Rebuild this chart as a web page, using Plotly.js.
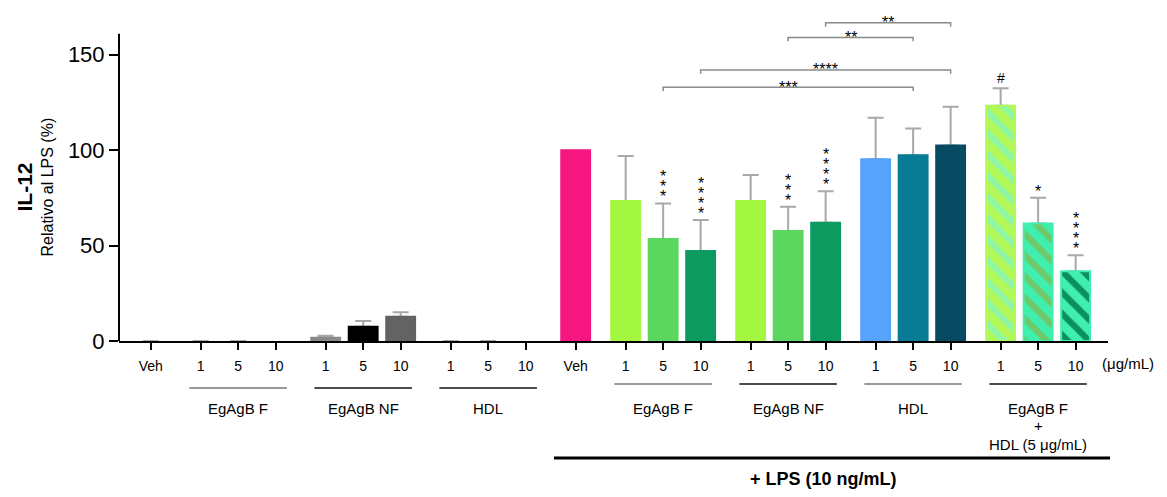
<!DOCTYPE html>
<html><head><meta charset="utf-8">
<script src="https://cdn.plot.ly/plotly-3.0.1.min.js"></script>
<style>html,body{margin:0;padding:0;background:#fff;} #chart{width:1167px;height:497px;}</style>
</head><body><div id="chart"></div>
<script>
// ---------------- data ----------------
const groupNames = ['', 'EgAgB F', 'EgAgB NF', 'HDL', '', 'EgAgB F', 'EgAgB NF', 'HDL', 'EgAgB F'];
const groupSizes = [1, 3, 3, 3, 1, 3, 3, 3, 3];
const tickLabels = ['Veh','1','5','10','1','5','10','1','5','10',
                    'Veh','1','5','10','1','5','10','1','5','10','1','5','10'];
const meanValues = [0, 0, 0, 0, 1.7, 7.5, 12.7, 0, 0, 0,
                    100, 73.3, 53.4, 47.1, 73.3, 57.6, 62.0, 95.2, 97.3, 102.4, 123.3, 61.6, 36.5];
const errorUpper = [0, 0, 0, null, 1.1, 3.0, 2.3, 0, 0, null,
                    null, 23.6, 18.7, 16.3, 13.7, 12.8, 16.4, 21.8, 14.0, 20.3, 9.1, 13.5, 8.4];
const barMarks = ['', '', '', '', '', '', '', '', '', '',
                  '', '', '***', '****', '', '***', '****', '', '', '', '#', '*', '****'];
const comparisons = [
  {a: 12, b: 18, label: '***'},
  {a: 13, b: 19, label: '****'},
  {a: 15, b: 18, label: '**'},
  {a: 16, b: 19, label: '**'}
];
const unitLabel = '(μg/mL)';
const comboLines = ['EgAgB F', '+', 'HDL (5 μg/mL)'];
const lpsLabel = '+ LPS (10 ng/mL)';
const yTitleMain = 'IL-12';
const yTitleSub = 'Relativo al LPS (%)';

// ---------------- styles ----------------
const barColors = ['#9a9a9a','#9a9a9a','#9a9a9a','#9a9a9a','#8a8a8a','#000000','#636363','#9a9a9a','#9a9a9a','#9a9a9a',
                   '#f5167f','#a3f741','#5bd65f','#0c9a60','#a3f741','#5bd65f','#0c9a60',
                   '#56a3fc','#087c96','#064b62','#b3f859','#40eeae','#40efb0'];
const hatchFg = {20: '#8ff7a4', 21: '#6fc86a', 22: '#0b8f5c'};   // striped bars: stripe colour
const underlineColors = ['#777','#111','#111','#777','#111','#777','#111'];
const bracketY = [133, 142, 159, 166.7];

const FONT = 'Liberation Sans, Arial, sans-serif';
const PL = 119, PR = 1108, PT = 7, PB = 341;
const yMax = 175;
const xMin = -0.845, xMax = 25.53;
const BARW = 0.77;

// positions: step 1 within group, 4/3 between groups
const xPos = [];
let p = 0;
groupSizes.forEach(n => { for (let k = 0; k < n; k++) { xPos.push(p); p += 1; } p += 1/3; });

const pxX = px => (px - PL) / (PR - PL);
const pxY = py => (PB - py) / (PB - PT);
const dataToPaperX = v => (v - xMin) / (xMax - xMin);

// error bars drawn first (underneath), so the lower cap is hidden by the bars
const traces = [{
  type: 'bar',
  x: xPos,
  y: meanValues.map((v, i) => errorUpper[i] === null ? null : v),
  width: BARW,
  marker: {color: 'rgba(0,0,0,0)', line: {width: 0}},
  error_y: {
    type: 'data', symmetric: false,
    array: errorUpper,
    arrayminus: errorUpper.map(v => v === null ? null : 0),
    color: '#a8a8a8', thickness: 2, width: 8
  },
  hoverinfo: 'none'
}];

// plain bars
const plainIdx = meanValues.map((v, i) => i).filter(i => !(i in hatchFg));
traces.push({
  type: 'bar',
  x: plainIdx.map(i => xPos[i]),
  y: plainIdx.map(i => meanValues[i]),
  width: BARW,
  marker: {
    color: plainIdx.map(i => barColors[i]),
    line: {color: plainIdx.map(i => barColors[i]), width: plainIdx.map(i => meanValues[i] > 0 ? 2 : 0)}
  },
  hoverinfo: 'none'
});

// striped bars (one trace each so the stripe colour can differ)
Object.keys(hatchFg).map(Number).forEach(i => {
  traces.push({
    type: 'bar',
    x: [xPos[i]],
    y: [meanValues[i]],
    width: BARW,
    marker: {
      color: barColors[i],
      line: {color: barColors[i], width: 2},
      pattern: {shape: '\\', fillmode: 'replace', bgcolor: barColors[i], fgcolor: hatchFg[i], size: 15, solidity: 0.42}
    },
    hoverinfo: 'none'
  });
});

const shapes = [];
const annotations = [];

// y axis line
shapes.push({type: 'line', xref: 'paper', yref: 'y', x0: 0, x1: 0, y0: 0, y1: 161,
             line: {color: '#000', width: 2}});

// group underlines and labels
let idx = 0, ul = 0;
groupSizes.forEach((n, g) => {
  const first = idx, last = idx + n - 1;
  idx += n;
  if (!groupNames[g]) return;
  const right = first >= 10;
  const lineY = right ? 384 : 388;
  shapes.push({type: 'line', xref: 'paper', yref: 'paper',
               x0: dataToPaperX(xPos[first] - 0.3), x1: dataToPaperX(xPos[last] + 0.3),
               y0: pxY(lineY), y1: pxY(lineY),
               line: {color: underlineColors[ul++], width: 1.6}});
  const cx = dataToPaperX((xPos[first] + xPos[last]) / 2);
  if (g === groupNames.length - 1) {
    const ys = [408, 425, 444];
    comboLines.forEach((t, k) => annotations.push({xref: 'paper', yref: 'paper', x: cx, y: pxY(ys[k]),
      text: t, showarrow: false, xanchor: 'center', yanchor: 'middle', font: {size: 15, color: '#000'}}));
  } else {
    annotations.push({xref: 'paper', yref: 'paper', x: cx, y: pxY(408), text: groupNames[g],
      showarrow: false, xanchor: 'center', yanchor: 'middle', font: {size: 15, color: '#000'}});
  }
});

// LPS line + label
shapes.push({type: 'line', xref: 'paper', yref: 'paper',
             x0: pxX(554), x1: pxX(1110), y0: pxY(458), y1: pxY(458), line: {color: '#000', width: 3}});
annotations.push({xref: 'paper', yref: 'paper', x: pxX(823), y: pxY(479), text: '<b>' + lpsLabel + '</b>',
  showarrow: false, xanchor: 'center', yanchor: 'middle', font: {size: 18, color: '#000'}});

// unit label
annotations.push({xref: 'paper', yref: 'paper', x: pxX(1100), y: pxY(363), text: unitLabel,
  showarrow: false, xanchor: 'left', yanchor: 'middle', font: {size: 15, color: '#000'}});

// y titles
annotations.push({xref: 'paper', yref: 'paper', x: pxX(23.5), y: pxY(187), text: '<b>' + yTitleMain + '</b>',
  textangle: -90, showarrow: false, xanchor: 'center', yanchor: 'middle', font: {size: 21, color: '#000'}});
annotations.push({xref: 'paper', yref: 'paper', x: pxX(47), y: pxY(187.5), text: yTitleSub,
  textangle: -90, showarrow: false, xanchor: 'center', yanchor: 'middle', font: {size: 16, color: '#000'}});

// marks above bars (stacked asterisks in one text, tight line spacing)
barMarks.forEach((m, i) => {
  if (!m) return;
  const top = meanValues[i] + (errorUpper[i] || 0);
  if (m.length > 1 && /^\*+$/.test(m)) {
    const txt = m.split('').map(s => '<span style="font-size:16px">' + s + '</span>').join('<br>');
    annotations.push({x: xPos[i], y: top, yshift: -4, text: txt, showarrow: false,
      xanchor: 'center', yanchor: 'bottom', font: {size: 7.7, color: '#000'}});
  } else {
    annotations.push({x: xPos[i], y: top, yshift: m === '#' ? 10 : 6, text: m, showarrow: false,
      xanchor: 'center', yanchor: 'middle', font: {size: m === '#' ? 14 : 16, color: '#000'}});
  }
});

// comparison brackets
comparisons.forEach((c, k) => {
  const y = bracketY[k];
  const xa = xPos[c.a], xb = xPos[c.b];
  shapes.push({type: 'path', xref: 'x', yref: 'y',
    path: `M ${xa} ${y - 2} L ${xa} ${y} L ${xb} ${y} L ${xb} ${y - 2}`,
    line: {color: '#8a8a8a', width: 1.5}});
  annotations.push({x: (xa + xb) / 2, y: y, yshift: 0, text: c.label, showarrow: false,
    xanchor: 'center', yanchor: 'middle', font: {size: 16, color: '#000'}});
});

const layout = {
  width: 1167, height: 497,
  margin: {l: PL, r: 1167 - PR, t: PT, b: 497 - PB, pad: 0},
  paper_bgcolor: '#fff', plot_bgcolor: '#fff',
  font: {family: FONT, color: '#000'},
  showlegend: false,
  barmode: 'overlay',
  xaxis: {
    range: [xMin, xMax], showgrid: false, zeroline: false,
    showline: true, linecolor: '#000', linewidth: 2,
    ticks: 'outside', ticklen: 7, tickwidth: 2, tickcolor: '#000',
    tickvals: xPos, ticktext: tickLabels, tickangle: 0,
    tickfont: {size: 14, color: '#000'}, ticklabelstandoff: 4,
    layer: 'below traces', fixedrange: true
  },
  yaxis: {
    range: [0, yMax], showgrid: false, zeroline: false, showline: false,
    ticks: 'outside', ticklen: 9, tickwidth: 2, tickcolor: '#000',
    tickvals: [0, 50, 100, 150], tickfont: {size: 22, color: '#000'},
    fixedrange: true
  },
  shapes: shapes,
  annotations: annotations
};

Plotly.newPlot('chart', traces, layout, {displayModeBar: false, staticPlot: true});
</script>
</body></html>
